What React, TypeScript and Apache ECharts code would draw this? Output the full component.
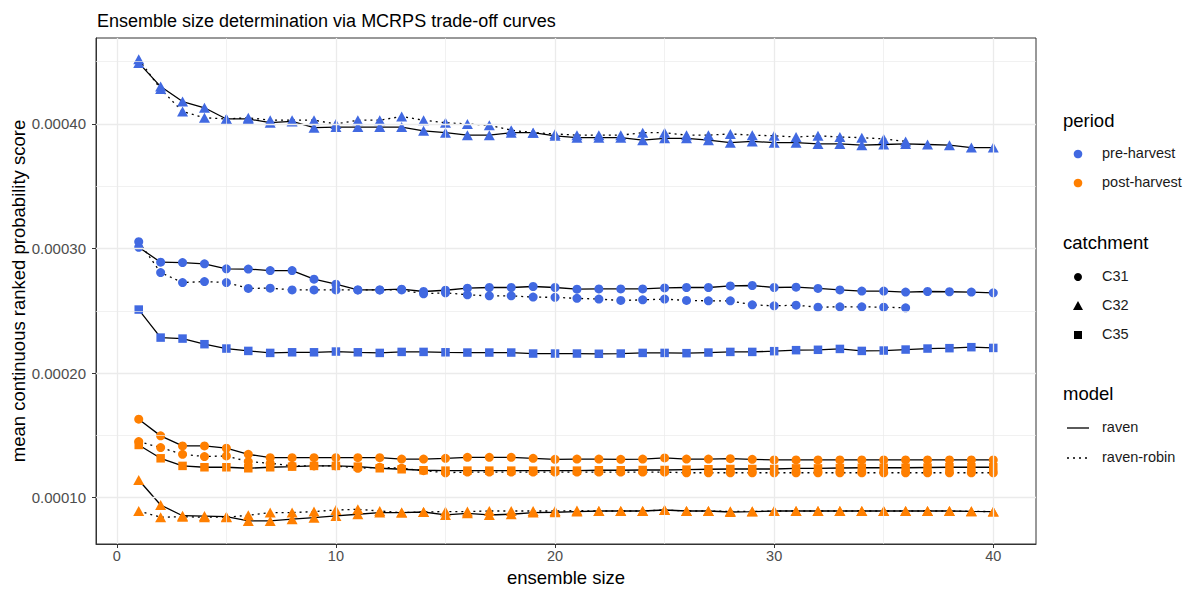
import React, { useEffect, useRef } from "react";
import * as echarts from "echarts";

// ensemble sizes (x)
const ENSEMBLE_SIZES = [1, 2, 3, 4, 5, 6, 7, 8, 9, 10, 11, 12, 13, 14, 15, 16, 17, 18, 19, 20,
  21, 22, 23, 24, 25, 26, 27, 28, 29, 30, 31, 32, 33, 34, 35, 36, 37, 38, 39, 40];

// values are MCRPS in units of 1e-5
const PRE_C31_RAVEN = [30.1, 28.9, 28.87, 28.77, 28.37, 28.35, 28.23, 28.23, 27.54, 27.14, 26.68, 26.68, 26.74, 26.55, 26.65, 26.82, 26.87, 26.87, 26.95, 26.87,
  26.74, 26.76, 26.76, 26.76, 26.84, 26.87, 26.87, 27.0, 27.03, 26.87, 26.9, 26.8, 26.68, 26.58, 26.58, 26.5, 26.55, 26.53, 26.5, 26.44];
const PRE_C31_ROBIN = [30.55, 28.07, 27.27, 27.35, 27.27, 26.8, 26.82, 26.68, 26.68, 26.68, 26.68, 26.68, 26.68, 26.36, 26.45, 26.28, 26.2, 26.2, 26.1, 26.08,
  26.0, 25.94, 25.83, 25.88, 25.94, 25.83, 25.8, 25.8, 25.48, 25.4, 25.45, 25.29, 25.32, 25.32, 25.29, 25.24];
const PRE_C32_RAVEN = [44.9, 43.0, 41.8, 41.3, 40.4, 40.4, 40.1, 40.2, 39.7, 39.75, 39.75, 39.75, 39.75, 39.45, 39.3, 39.1, 39.1, 39.3, 39.3, 39.05,
  38.9, 38.9, 38.9, 38.7, 38.85, 38.85, 38.7, 38.5, 38.6, 38.5, 38.5, 38.4, 38.4, 38.3, 38.35, 38.4, 38.35, 38.3, 38.1, 38.1];
const PRE_C32_ROBIN = [45.2, 42.8, 41.0, 40.5, 40.4, 40.5, 40.3, 40.3, 40.3, 40.0, 40.3, 40.3, 40.6, 40.3, 40.1, 40.0, 39.9, 39.5, 39.3, 39.2,
  39.1, 39.1, 39.1, 39.3, 39.3, 39.1, 39.1, 39.2, 39.1, 39.05, 38.95, 39.05, 38.95, 38.9, 38.8, 38.6];
const PRE_C35_RAVEN = [25.1, 22.85, 22.77, 22.32, 21.97, 21.78, 21.62, 21.67, 21.67, 21.73, 21.67, 21.62, 21.7, 21.7, 21.67, 21.65, 21.65, 21.65, 21.57, 21.57,
  21.57, 21.55, 21.57, 21.62, 21.62, 21.6, 21.65, 21.7, 21.7, 21.76, 21.84, 21.87, 21.94, 21.78, 21.81, 21.89, 21.97, 22.0, 22.08, 22.02];

const POST_C31_RAVEN = [16.3, 14.96, 14.15, 14.15, 13.97, 13.48, 13.21, 13.21, 13.21, 13.21, 13.21, 13.21, 13.1, 13.1, 13.16, 13.24, 13.24, 13.24, 13.16, 13.08,
  13.1, 13.1, 13.08, 13.1, 13.19, 13.1, 13.1, 13.13, 13.08, 13.03, 13.03, 13.03, 13.03, 13.03, 13.03, 13.03, 13.03, 13.03, 13.03, 13.03];
const POST_C31_ROBIN = [14.5, 14.02, 13.48, 13.3, 13.35, 12.9, 12.76, 12.55, 12.55, 12.55, 12.36, 12.44, 12.36, 12.17, 12.0, 12.05, 12.05, 12.05, 12.05, 12.05,
  12.05, 12.05, 12.05, 12.05, 12.05, 12.0, 12.0, 12.0, 12.0, 12.0, 12.0, 12.0, 12.0, 12.0, 12.0, 12.0, 12.0, 12.0, 12.0, 12.0];
const POST_C32_RAVEN = [11.42, 9.41, 8.55, 8.52, 8.47, 8.13, 8.13, 8.27, 8.39, 8.53, 8.67, 8.8, 8.8, 8.85, 8.61, 8.74, 8.61, 8.67, 8.8, 8.83,
  8.88, 8.93, 8.93, 8.93, 9.01, 8.93, 8.93, 8.85, 8.88, 8.93, 8.93, 8.93, 8.93, 8.93, 8.93, 8.93, 8.93, 8.93, 8.9, 8.88];
const POST_C32_ROBIN = [8.93, 8.43, 8.47, 8.43, 8.43, 8.59, 8.8, 8.8, 8.88, 9.01, 9.07, 8.93, 8.8, 8.85, 8.88, 8.88, 8.93, 8.93, 8.93, 8.93,
  8.96, 8.93, 8.93, 8.93, 9.01, 8.93, 8.93, 8.9, 8.9, 8.93, 8.93, 8.93, 8.93, 8.93, 8.93, 8.93, 8.93, 8.93, 8.9, 8.88];
const POST_C35_RAVEN = [14.23, 13.16, 12.55, 12.44, 12.44, 12.36, 12.44, 12.49, 12.55, 12.55, 12.49, 12.36, 12.28, 12.2, 12.17, 12.17, 12.17, 12.17, 12.17, 12.17,
  12.17, 12.2, 12.2, 12.22, 12.22, 12.25, 12.28, 12.3, 12.3, 12.3, 12.35, 12.35, 12.38, 12.4, 12.4, 12.4, 12.42, 12.44, 12.44, 12.44];

const UNIT = 1e-5;
const X_MIN = -0.95;
const X_MAX = 41.95;
const Y_MIN = 0.0000628;
const Y_MAX = 0.000469;
const X_TICKS = [0, 10, 20, 30, 40];
const X_MINOR = [5, 15, 25, 35];
const Y_TICKS = [0.0001, 0.0002, 0.0003, 0.0004];
const Y_MINOR = [0.00015, 0.00025, 0.00035, 0.00045];

const BLUE = "#4169E1";
const ORANGE = "#FF7F00";

const SERIES_DEFS = [
  { name: "pre C32 raven", color: BLUE, shape: "triangle", dotted: false, values: PRE_C32_RAVEN },
  { name: "pre C32 robin", color: BLUE, shape: "triangle", dotted: true, values: PRE_C32_ROBIN },
  { name: "pre C31 raven", color: BLUE, shape: "circle", dotted: false, values: PRE_C31_RAVEN },
  { name: "pre C31 robin", color: BLUE, shape: "circle", dotted: true, values: PRE_C31_ROBIN },
  { name: "pre C35 raven", color: BLUE, shape: "rect", dotted: false, values: PRE_C35_RAVEN },
  { name: "post C31 raven", color: ORANGE, shape: "circle", dotted: false, values: POST_C31_RAVEN },
  { name: "post C31 robin", color: ORANGE, shape: "circle", dotted: true, values: POST_C31_ROBIN },
  { name: "post C35 raven", color: ORANGE, shape: "rect", dotted: false, values: POST_C35_RAVEN },
  { name: "post C32 raven", color: ORANGE, shape: "triangle", dotted: false, values: POST_C32_RAVEN },
  { name: "post C32 robin", color: ORANGE, shape: "triangle", dotted: true, values: POST_C32_ROBIN },
];

const FONT = "Liberation Sans, Arial, sans-serif";
const SYMBOL_SIZE: Record<string, any> = { circle: 9, triangle: [11, 10], rect: 8.5 };

export default function App() {
  const ref = useRef<HTMLDivElement>(null);
  useEffect(() => {
    if (!ref.current) return;
    const chart = echarts.init(ref.current, null, { renderer: "svg" });

    const toData = (vals: number[]) => vals.map((v, i) => [ENSEMBLE_SIZES[i], v * UNIT]);

    const lineSeries = SERIES_DEFS.map((d) => ({
      name: d.name,
      type: "line",
      data: toData(d.values),
      symbol: "none",
      z: 3,
      lineStyle: { color: "#000", width: 1.3, type: d.dotted ? [2, 4] : "solid" },
      silent: true,
    }));
    const pointSeries = SERIES_DEFS.map((d) => ({
      name: d.name + " pts",
      type: "scatter",
      data: toData(d.values),
      symbol: d.shape,
      symbolSize: SYMBOL_SIZE[d.shape],
      itemStyle: { color: d.color, opacity: 1 },
      z: 4,
      silent: true,
    }));

    const gridColor = "#EBEBEB";
    const vLine = (v: number, w: number) => [
      { coord: [v, Y_MIN], lineStyle: { color: gridColor, width: w, type: "solid" } },
      { coord: [v, Y_MAX] },
    ];
    const hLine = (v: number, w: number) => [
      { coord: [X_MIN, v], lineStyle: { color: gridColor, width: w, type: "solid" } },
      { coord: [X_MAX, v] },
    ];
    const gridSeries = {
      type: "line",
      data: [],
      z: 1,
      silent: true,
      markLine: {
        silent: true,
        symbol: ["none", "none"],
        label: { show: false },
        animation: false,
        data: [
          ...X_MINOR.map((v) => vLine(v, 0.7)),
          ...Y_MINOR.map((v) => hLine(v, 0.7)),
          ...X_TICKS.map((v) => vLine(v, 1.3)),
          ...Y_TICKS.map((v) => hLine(v, 1.3)),
        ],
      },
    };

    // legend graphics
    const lx = 1078;
    const tx = 1102;
    const itemText = (y: number, t: string) => ({
      type: "text", left: tx, top: y - 9,
      style: { text: t, fill: "#1a1a1a", font: `14.5px ${FONT}` },
    });
    const titleText = (y: number, t: string) => ({
      type: "text", left: 1063, top: y - 11,
      style: { text: t, fill: "#000", font: `18.5px ${FONT}` },
    });
    const graphic = [
      titleText(122, "period"),
      { type: "circle", shape: { cx: lx, cy: 154, r: 4.3 }, style: { fill: BLUE } },
      itemText(154, "pre-harvest"),
      { type: "circle", shape: { cx: lx, cy: 183, r: 4.3 }, style: { fill: ORANGE } },
      itemText(183, "post-harvest"),
      titleText(244, "catchment"),
      { type: "circle", shape: { cx: lx, cy: 277, r: 4 }, style: { fill: "#000" } },
      itemText(277, "C31"),
      { type: "polygon", shape: { points: [[lx - 5, 310], [lx + 5, 310], [lx, 301]] }, style: { fill: "#000" } },
      itemText(306, "C32"),
      { type: "rect", shape: { x: lx - 4, y: 331, width: 8, height: 8 }, style: { fill: "#000" } },
      itemText(335, "C35"),
      titleText(395, "model"),
      { type: "line", shape: { x1: 1067, y1: 428, x2: 1089, y2: 428 }, style: { stroke: "#000", lineWidth: 1.3 } },
      itemText(428, "raven"),
      { type: "line", shape: { x1: 1067, y1: 458, x2: 1089, y2: 458 }, style: { stroke: "#000", lineWidth: 1.3, lineDash: [2, 4] } },
      itemText(458, "raven-robin"),
    ];

    chart.setOption({
      animation: false,
      backgroundColor: "#fff",
      textStyle: { fontFamily: FONT },
      title: {
        text: "Ensemble size determination via MCRPS trade-off curves",
        left: 92,
        top: 7,
        textStyle: { fontSize: 18, fontWeight: "normal", color: "#000", fontFamily: FONT },
      },
      grid: {
        left: 96, top: 38, width: 940, height: 506,
        outerBoundsMode: "none",
        containLabel: false,
        show: true, borderColor: "#333", borderWidth: 1, backgroundColor: "transparent",
      },
      xAxis: {
        type: "value",
        min: X_MIN,
        max: X_MAX,
        name: "ensemble size",
        nameLocation: "middle",
        nameGap: 24,
        nameMoveOverlap: false,
        nameTextStyle: { fontSize: 18.5, color: "#000", fontFamily: FONT },
        axisLine: { show: true, onZero: false, lineStyle: { color: "#333", width: 1 } },
        axisTick: { show: true, length: 4, customValues: X_TICKS, lineStyle: { color: "#333" } },
        axisLabel: { customValues: X_TICKS, color: "#4D4D4D", fontSize: 14.5, margin: 4, fontFamily: FONT },
        splitLine: { show: false },
      },
      yAxis: {
        type: "value",
        min: Y_MIN,
        max: Y_MAX,
        name: "mean continuous ranked probability score",
        nameLocation: "middle",
        nameGap: 68,
        nameRotate: 90,
        nameMoveOverlap: false,
        nameTextStyle: { fontSize: 18.5, color: "#000", fontFamily: FONT },
        axisLine: { show: true, onZero: false, lineStyle: { color: "#333", width: 1 } },
        axisTick: { show: true, length: 4, customValues: Y_TICKS, lineStyle: { color: "#333" } },
        axisLabel: {
          customValues: Y_TICKS, color: "#4D4D4D", fontSize: 15, margin: 10, fontFamily: FONT,
          formatter: (v: number) => v.toFixed(5),
        },
        splitLine: { show: false },
      },
      series: [gridSeries, ...lineSeries, ...pointSeries],
      graphic,
    });
    return () => chart.dispose();
  }, []);
  return <div ref={ref} style={{ position: "fixed", left: 0, top: 0, width: 1194, height: 589 }} />;
}
